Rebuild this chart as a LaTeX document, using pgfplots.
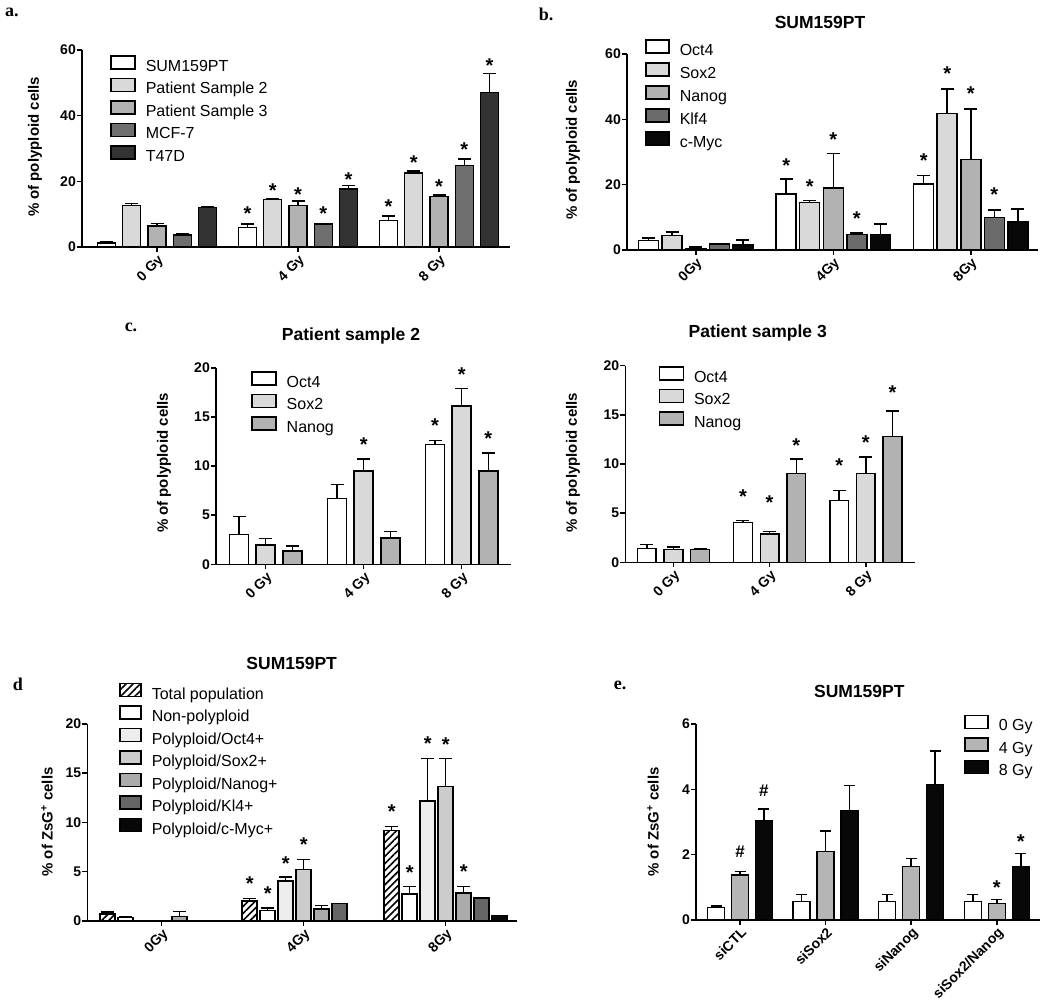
\documentclass[border=0pt]{standalone}
\usepackage{fontspec}
\setmainfont{Liberation Sans}
\newfontfamily\lserif{Liberation Serif}
\usepackage{pgfplots}
\pgfplotsset{compat=1.18}
\usetikzlibrary{patterns.meta}

\pgfplotsset{
 limg/.style={legend image code/.code={\draw[##1,line width=1.5pt] (0pt,-0.8pt) rectangle (#1,12.2pt);}},
 panel/.style={
   ybar, /pgf/bar shift=0pt,
   axis x line=bottom, axis y line=left,
   axis line style={-, line width=1.5pt, black},
   tick style={line width=1.5pt, black},
   tick align=outside, major tick length=5pt,
   ymin=0, clip=false, scaled y ticks=false,
   /pgf/number format/assume math mode=true,
   ticklabel style={font=\bfseries\fontsize{14}{14}\selectfont, inner sep=1pt},
   xticklabel style={rotate=45, anchor=north east},
   legend cell align=left,
   legend style={draw=none, fill=none, inner sep=0pt, outer sep=0pt, row sep=-0.7pt, column sep=10pt, anchor=north west,
     nodes={inner sep=0pt, outer sep=0pt, text height=13.5pt, text depth=7pt, font=\fontsize{16}{16}\selectfont}},
 },
 bb/.style={draw=black, line width=1.5pt, fill=#1},
 eb/.style={error bars/y dir=plus, error bars/y explicit, error bars/error mark=-, error bars/error bar style={line width=1.5pt, black},
   error bars/error mark options={rotate=90, line width=1.5pt, black, mark size=#1}},
 eb/.default=6.5pt,
}
\tikzset{
 sig/.style={font=\bfseries\fontsize{20}{20}\selectfont, anchor=base, yshift=-11.4pt, inner sep=0pt},
 hsh/.style={font=\bfseries\fontsize{17}{17}\selectfont, anchor=base, yshift=-6pt, inner sep=0pt},
 ttl/.style={font=\bfseries\fontsize{17.5}{17.5}\selectfont},
 ylab/.style={font=\bfseries\fontsize{15}{15}\selectfont, rotate=90},
 plet/.style={font=\lserif\bfseries\fontsize{18}{18}\selectfont},
}

\begin{document}
\begin{tikzpicture}
\useasboundingbox (0,0) rectangle (1050pt,1008pt);

% ---------------- panel a ----------------
\begin{axis}[panel, limg=24pt, at={(82pt,761pt)}, anchor=south west, x=141pt, y=3.2833pt,
  xmin=-0.532, xmax=2.504, ymax=60, ytick={0,20,40,60}, xtick={0,1,2}, xticklabels={0 Gy,4 Gy,8 Gy},
  bar width=18pt, legend style={at={(0.066,0.974)}}]
\addplot[bb=white, eb] table[row sep=\\, x expr=\thisrow{g}-0.3588, y=y, y error=e]{g y e\\0 1.2 0.5\\1 6.0 1.0\\2 8.1 1.4\\};
\addlegendentry{SUM159PT}
\addplot[bb={black!15}, eb] table[row sep=\\, x expr=\thisrow{g}-0.1794, y=y, y error=e]{g y e\\0 12.6 0.7\\1 14.5 0.2\\2 22.6 0.6\\};
\addlegendentry{Patient Sample 2}
\addplot[bb={black!30}, eb] table[row sep=\\, x expr=\thisrow{g}, y=y, y error=e]{g y e\\0 6.4 0.7\\1 12.6 1.4\\2 15.4 0.5\\};
\addlegendentry{Patient Sample 3}
\addplot[bb={black!57}, eb] table[row sep=\\, x expr=\thisrow{g}+0.1794, y=y, y error=e]{g y e\\0 3.65 0.45\\1 7.0 0.2\\2 24.8 2.0\\};
\addlegendentry{MCF-7}
\addplot[bb={black!80}, eb] table[row sep=\\, x expr=\thisrow{g}+0.3588, y=y, y error=e]{g y e\\0 12.1 0.3\\1 17.7 1.0\\2 47.1 5.7\\};
\addlegendentry{T47D}
\node[sig] at (axis cs:0.6412,11.5) {*};
\node[sig] at (axis cs:0.8206,18.4) {*};
\node[sig] at (axis cs:1,17.2) {*};
\node[sig] at (axis cs:1.1794,11.5) {*};
\node[sig] at (axis cs:1.3588,22.0) {*};
\node[sig] at (axis cs:1.6412,13.6) {*};
\node[sig] at (axis cs:1.8206,27.1) {*};
\node[sig] at (axis cs:2,19.9) {*};
\node[sig] at (axis cs:2.1794,31.1) {*};
\node[sig] at (axis cs:2.3588,56.6) {*};
\end{axis}

% ---------------- panel b ----------------
\begin{axis}[panel, limg=23pt, at={(627pt,758pt)}, anchor=south west, x=137.5pt, y=3.2667pt,
  xmin=-0.5, xmax=2.49, ymax=60, ytick={0,20,40,60}, xtick={0,1,2}, xticklabels={0Gy,4Gy,8Gy},
  bar width=20pt, legend style={at={(0.0444,1.076)}, row sep=-0.2pt}]
\addplot[bb=white, eb] table[row sep=\\, x expr=\thisrow{g}-0.342, y=y, y error=e]{g y e\\0 2.86 0.84\\1 17.1 4.6\\2 20.2 2.6\\};
\addlegendentry{Oct4}
\addplot[bb={black!15}, eb] table[row sep=\\, x expr=\thisrow{g}-0.171, y=y, y error=e]{g y e\\0 4.5 1.0\\1 14.6 0.6\\2 41.8 7.5\\};
\addlegendentry{Sox2}
\addplot[bb={black!30}, eb] table[row sep=\\, x expr=\thisrow{g}, y=y, y error=e]{g y e\\0 0.5 0.4\\1 18.9 10.6\\2 27.7 15.5\\};
\addlegendentry{Nanog}
\addplot[bb={black!58}, eb] table[row sep=\\, x expr=\thisrow{g}+0.171, y=y, y error=e]{g y e\\0 1.9 0.1\\1 4.8 0.4\\2 10.0 2.3\\};
\addlegendentry{Klf4}
\addplot[bb={black!97}, eb] table[row sep=\\, x expr=\thisrow{g}+0.342, y=y, y error=e]{g y e\\0 1.6 1.5\\1 4.8 3.1\\2 8.6 4.0\\};
\addlegendentry{c-Myc}
\node[sig] at (axis cs:0.658,27.3) {*};
\node[sig] at (axis cs:0.829,20.8) {*};
\node[sig] at (axis cs:1,35.1) {*};
\node[sig] at (axis cs:1.171,11.0) {*};
\node[sig] at (axis cs:1.658,28.6) {*};
\node[sig] at (axis cs:1.829,55.3) {*};
\node[sig] at (axis cs:2,49.3) {*};
\node[sig] at (axis cs:2.171,18.2) {*};
\end{axis}

% ---------------- panel c left ----------------
\begin{axis}[panel, limg=24pt, at={(216pt,443.7pt)}, anchor=south west, x=98pt, y=9.815pt,
  xmin=-0.507, xmax=2.5, ymax=20, ytick={0,5,10,15,20}, xtick={0,1,2}, xticklabels={0 Gy,4 Gy,8 Gy},
  bar width=19pt, legend style={at={(0.1196,0.984)}}]
\addplot[bb=white, eb] table[row sep=\\, x expr=\thisrow{g}-0.272, y=y, y error=e]{g y e\\0 3.06 1.8\\1 6.72 1.43\\2 12.22 0.41\\};
\addlegendentry{Oct4}
\addplot[bb={black!15}, eb] table[row sep=\\, x expr=\thisrow{g}, y=y, y error=e]{g y e\\0 1.97 0.68\\1 9.5 1.23\\2 16.13 1.8\\};
\addlegendentry{Sox2}
\addplot[bb={black!30}, eb] table[row sep=\\, x expr=\thisrow{g}+0.272, y=y, y error=e]{g y e\\0 1.36 0.51\\1 2.68 0.65\\2 9.5 1.84\\};
\addlegendentry{Nanog}
\node[sig] at (axis cs:1,12.67) {*};
\node[sig] at (axis cs:1.728,14.63) {*};
\node[sig] at (axis cs:2,19.8) {*};
\node[sig] at (axis cs:2.272,13.24) {*};
\end{axis}

% ---------------- panel c right ----------------
\begin{axis}[panel, limg=24pt, at={(625.3pt,445.7pt)}, anchor=south west, x=96.2pt, y=9.83pt,
  xmin=-0.5, xmax=2.51, ymax=20, ytick={0,5,10,15,20}, xtick={0,1,2}, xticklabels={0 Gy,4 Gy,8 Gy},
  bar width=18.7pt, legend style={at={(0.1148,0.997)}}]
\addplot[bb=white, eb] table[row sep=\\, x expr=\thisrow{g}-0.277, y=y, y error=e]{g y e\\0 1.39 0.41\\1 4.07 0.17\\2 6.3 1.02\\};
\addlegendentry{Oct4}
\addplot[bb={black!15}, eb] table[row sep=\\, x expr=\thisrow{g}, y=y, y error=e]{g y e\\0 1.32 0.21\\1 2.88 0.24\\2 9.02 1.69\\};
\addlegendentry{Sox2}
\addplot[bb={black!30}, eb] table[row sep=\\, x expr=\thisrow{g}+0.277, y=y, y error=e]{g y e\\0 1.32 0.04\\1 9.02 1.48\\2 12.78 2.61\\};
\addlegendentry{Nanog}
\node[sig] at (axis cs:0.723,7.12) {*};
\node[sig] at (axis cs:1,6.51) {*};
\node[sig] at (axis cs:1.277,12.34) {*};
\node[sig] at (axis cs:1.723,10.34) {*};
\node[sig] at (axis cs:2,12.64) {*};
\node[sig] at (axis cs:2.277,17.76) {*};
\end{axis}

% ---------------- panel d ----------------
\begin{axis}[panel, limg=21pt, at={(87.3pt,87pt)}, anchor=south west, x=142pt, y=9.85pt,
  xmin=-0.524, xmax=2.5, ymax=20, ytick={0,5,10,15,20}, xtick={0,1,2}, xticklabels={0Gy,4Gy,8Gy},
  bar width=15pt, legend style={at={(0.0744,1.209)}}]
\addplot[draw=black, line width=1.5pt, pattern={Lines[angle=45,distance=5pt,line width=1.6pt]}, pattern color=black, eb] table[row sep=\\, x expr=\thisrow{g}-0.3804, y=y, y error=e]{g y e\\0 0.71 0.2\\1 2.03 0.24\\2 9.17 0.44\\};
\addlegendentry{Total population}
\addplot[bb=white, eb] table[row sep=\\, x expr=\thisrow{g}-0.2536, y=y, y error=e]{g y e\\0 0.37 0.1\\1 1.05 0.27\\2 2.74 0.75\\};
\addlegendentry{Non-polyploid}
\addplot[bb={black!7}, eb] table[row sep=\\, x expr=\thisrow{g}-0.1268, y=y, y error=e]{g y e\\1 4.06 0.41\\2 12.18 4.33\\};
\addlegendentry{Polyploid/Oct4+}
\addplot[bb={black!20}, eb] table[row sep=\\, x expr=\thisrow{g}, y=y, y error=e]{g y e\\1 5.21 1.05\\2 13.64 2.84\\};
\addlegendentry{Polyploid/Sox2+}
\addplot[bb={black!33}, eb] table[row sep=\\, x expr=\thisrow{g}+0.1268, y=y, y error=e]{g y e\\0 0.47 0.51\\1 1.22 0.34\\2 2.84 0.65\\};
\addlegendentry{Polyploid/Nanog+}
\addplot[bb={black!60}] table[row sep=\\, x expr=\thisrow{g}+0.2536, y=y]{g y\\1 1.76\\2 2.34\\};
\addlegendentry{Polyploid/Kl4+}
\addplot[bb={black!97}] table[row sep=\\, x expr=\thisrow{g}+0.3804, y=y]{g y\\2 0.58\\};
\addlegendentry{Polyploid/c-Myc+}
\node[sig] at (axis cs:0.6196,4.23) {*};
\node[sig] at (axis cs:0.7464,3.21) {*};
\node[sig] at (axis cs:0.8732,6.29) {*};
\node[sig] at (axis cs:1,8.22) {*};
\node[sig] at (axis cs:1.6196,11.6) {*};
\node[sig] at (axis cs:1.7464,5.35) {*};
\node[sig] at (axis cs:1.8732,18.48) {*};
\node[sig] at (axis cs:2,18.38) {*};
\node[sig] at (axis cs:2.1268,5.52) {*};
\end{axis}

% ---------------- panel e ----------------
\begin{axis}[panel, limg=23pt, at={(696pt,88pt)}, anchor=south west, x=85.6pt, y=32.667pt,
  xmin=-0.514, xmax=3.5, ymax=6, ytick={0,2,4,6}, xtick={0,1,2,3}, xticklabels={siCTL,siSox2,siNanog,siSox2/Nanog},
  bar width=17pt, legend style={at={(0.781,1.047)}}]
\addplot[bb=white, eb=5.5pt] table[row sep=\\, x expr=\thisrow{g}-0.28, y=y, y error=e]{g y e\\0 0.38 0.05\\1 0.57 0.21\\2 0.57 0.21\\3 0.57 0.21\\};
\addlegendentry{0 Gy}
\addplot[bb={black!29}, eb=5.5pt] table[row sep=\\, x expr=\thisrow{g}, y=y, y error=e]{g y e\\0 1.37 0.11\\1 2.1 0.62\\2 1.64 0.25\\3 0.5 0.13\\};
\addlegendentry{4 Gy}
\addplot[bb={black!97}, eb=5.5pt] table[row sep=\\, x expr=\thisrow{g}+0.28, y=y, y error=e]{g y e\\0 3.05 0.35\\1 3.35 0.77\\2 4.14 1.03\\3 1.64 0.4\\};
\addlegendentry{8 Gy}
\node[hsh] at (axis cs:0,2.09) {\#};
\node[hsh] at (axis cs:0.28,3.96) {\#};
\node[sig] at (axis cs:3,1.14) {*};
\node[sig] at (axis cs:3.28,2.55) {*};
\end{axis}

% ---------------- titles, labels, panel letters ----------------
\node[ttl] at (820pt,986pt) {SUM159PT};
\node[ttl] at (351pt,672pt) {Patient sample 2};
\node[ttl] at (757.7pt,675pt) {Patient sample 3};
\node[ttl] at (291.7pt,344.7pt) {SUM159PT};
\node[ttl] at (859.3pt,316.3pt) {SUM159PT};

\node[ylab] at (35pt,861pt) {\% of polyploid cells};
\node[ylab] at (573pt,858pt) {\% of polyploid cells};
\node[ylab] at (164pt,545pt) {\% of polyploid cells};
\node[ylab] at (573pt,545pt) {\% of polyploid cells};
\node[ylab] at (47pt,186pt) {\% of ZsG\textsuperscript{+} cells};
\node[ylab] at (653pt,186pt) {\% of ZsG\textsuperscript{+} cells};

\node[plet] at (12pt,996pt) {a.};
\node[plet] at (546pt,994pt) {b.};
\node[plet] at (131pt,681pt) {c.};
\node[plet] at (18pt,324pt) {d};
\node[plet] at (620pt,323pt) {e.};
\end{tikzpicture}
\end{document}
